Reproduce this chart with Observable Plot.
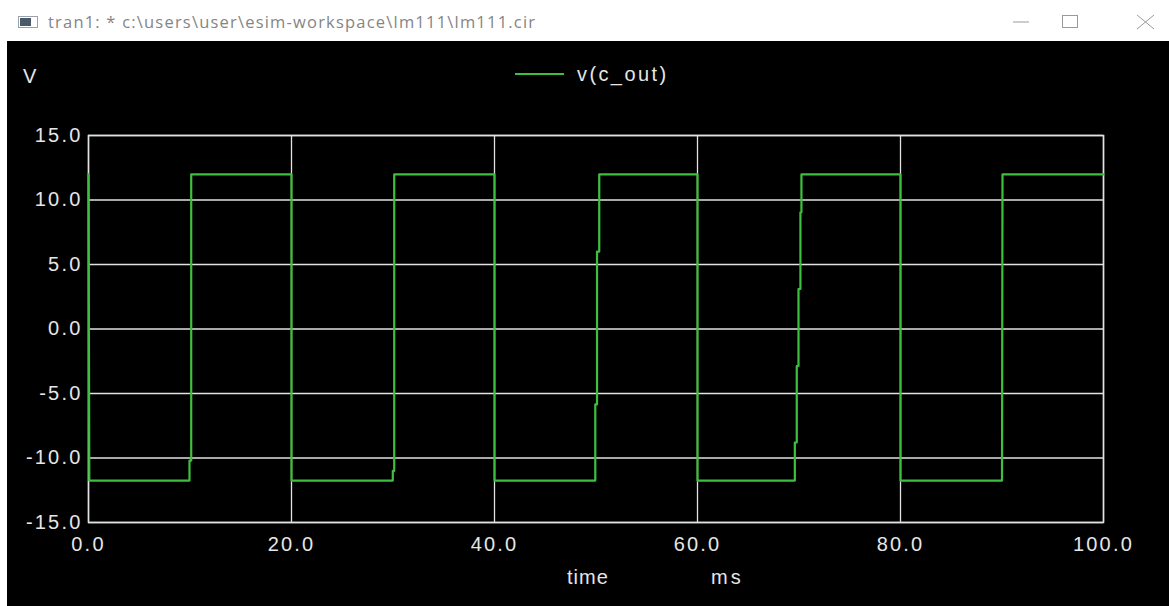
<!DOCTYPE html>
<html>
<head>
<meta charset="utf-8">
<script src="https://cdn.jsdelivr.net/npm/d3@7"></script>
<script src="https://cdn.jsdelivr.net/npm/@observablehq/plot@0.6"></script>
<style>
  html, body { margin: 0; padding: 0; background: #ffffff; }
  #root { position: relative; width: 1169px; height: 606px; overflow: hidden; background: #ffffff; font-family: "Liberation Sans", Arial, sans-serif; }
  #titlebar { position: absolute; left: 0; top: 0; width: 1169px; height: 41px; background: #ffffff; }
  #titletext { position: absolute; left: 48px; top: 10px; font-family: "Open Sans", "Noto Sans", sans-serif; font-size: 16.5px; letter-spacing: 1.2px; color: #858585; white-space: nowrap; }
  #icon { position: absolute; left: 18px; top: 16px; width: 20px; height: 12px; border: 1px solid #9aa3ad; box-sizing: border-box; background: #ffffff; }
  #icon .blk { position: absolute; left: 1px; top: 1px; width: 11px; height: 8px; background: #4b5a6b; }
  #controls { position: absolute; left: 1000px; top: 0; }
  #panel { position: absolute; left: 7px; top: 41px; width: 1162px; height: 565px; background: #000000; border-left: 1px solid #b0b0b0; box-sizing: border-box; }
  #chart { position: absolute; left: -1px; top: 0; }
  .lbl { position: absolute; color: #e6e6e6; font-size: 20px; white-space: nowrap; letter-spacing: 1px; }
</style>
</head>
<body>
<div id="root">
  <div id="titlebar">
    <div id="icon"><div class="blk"></div></div>
    <div id="titletext">tran1: * c:\users\user\esim-workspace\lm111\lm111.cir</div>
    <svg id="controls" width="169" height="41">
      <line x1="13" y1="22" x2="29" y2="22" stroke="#9a9a9a" stroke-width="1"/>
      <rect x="62.5" y="15.5" width="15" height="12" fill="none" stroke="#9a9a9a" stroke-width="1"/>
      <line x1="137" y1="15" x2="154" y2="29" stroke="#9a9a9a" stroke-width="1"/>
      <line x1="154" y1="15" x2="137" y2="29" stroke="#9a9a9a" stroke-width="1"/>
    </svg>
  </div>
  <div id="panel">
    <div id="chart"></div>
  </div>
</div>
<script>
// ---- data ----
const seriesName = "v(c_out)";
const yUnit = "V";
const xLabel = "time";
const xUnit = "ms";
const xTicks = [0, 20, 40, 60, 80, 100];
const yTicks = [-15, -10, -5, 0, 5, 10, 15];
const timeMs = [0, 0.08, 9.95, 9.95, 10.12, 10.12, 20.0, 20.0, 29.98, 29.98, 30.12, 30.12,
  40.0, 40.0, 49.93, 49.93, 50.1, 50.1, 50.32, 50.32, 60.0, 60.0,
  69.59, 69.59, 69.78, 69.78, 69.95, 69.95, 70.14, 70.14, 70.24, 70.24,
  80.0, 80.0, 90.0, 90.05, 100.0];
const volts = [11.98, -11.75, -11.75, -10.2, -10.2, 11.98, 11.98, -11.75, -11.75, -11.0, -11.0, 11.98,
  11.98, -11.75, -11.75, -5.85, -5.85, 6.0, 6.0, 11.98, 11.98, -11.75,
  -11.75, -8.8, -8.8, -2.87, -2.87, 3.1, 3.1, 9.05, 9.05, 11.98,
  11.98, -11.75, -11.75, 11.98, 11.98];

const data = timeMs.map((t, i) => ({t, v: volts[i]}));
const fmt = d => d.toFixed(1);
const gridColor = "#e2e2e2";
const textColor = "#e6e6e6";
const green = "#3fbf3f";

const chart = Plot.plot({
  width: 1162,
  height: 565,
  marginLeft: 81,
  marginRight: 66,
  marginTop: 94,
  marginBottom: 84,
  style: {background: "#000000", color: textColor, fontFamily: "'Liberation Sans', Arial, sans-serif", fontSize: "20px", letterSpacing: "2.2px"},
  x: {domain: [0, 100], label: null},
  y: {domain: [-15, 15], label: null},
  marks: [
    Plot.gridX(xTicks, {stroke: gridColor, strokeOpacity: 1, strokeWidth: 1.3}),
    Plot.gridY(yTicks, {stroke: gridColor, strokeOpacity: 1, strokeWidth: 1.3}),
    Plot.frame({stroke: gridColor, strokeWidth: 1.5}),
    Plot.line(data, {x: "t", y: "v", stroke: green, strokeWidth: 2.2, curve: "linear"}),
    Plot.axisX(xTicks, {tickSize: 0, tickPadding: 14, tickFormat: fmt, fill: textColor, fontSize: 20, label: null}),
    Plot.axisY(yTicks, {tickSize: 0, tickPadding: 6, tickFormat: fmt, fill: textColor, fontSize: 20, label: null})
  ]
});
document.getElementById("chart").appendChild(chart);

// labels around the plot (text)
const panel = document.getElementById("panel");
function addLabel(text, left, top, extra) {
  const d = document.createElement("div");
  d.className = "lbl";
  d.textContent = text;
  d.style.left = left + "px";
  d.style.top = top + "px";
  if (extra) Object.assign(d.style, extra);
  panel.appendChild(d);
}
addLabel(yUnit, 15, 24);
addLabel(seriesName, 569, 22, {letterSpacing: "2.4px"});
addLabel(xLabel, 559, 525);
addLabel(xUnit, 703, 525, {letterSpacing: "3px"});
const leg = document.createElement("div");
Object.assign(leg.style, {position: "absolute", left: "507px", top: "32px", width: "49px", height: "2px", background: green});
panel.appendChild(leg);
</script>
</body>
</html>
